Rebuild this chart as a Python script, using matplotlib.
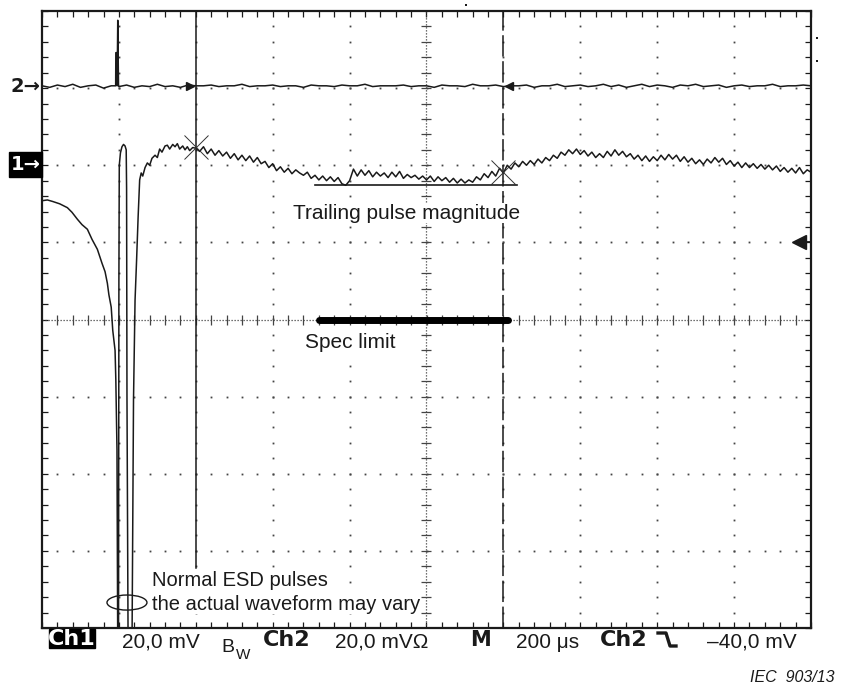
"""
Oscilloscope capture: ESD pulse on Ch1 with trailing pulse magnitude
and spec limit, Ch2 trigger trace on top.
"""
import numpy as np
import matplotlib
matplotlib.use("Agg")
import matplotlib.pyplot as plt
from matplotlib.patches import Ellipse, Rectangle
from matplotlib.lines import Line2D

W, H = 843, 688
plt.rcParams['font.family'] = ['Liberation Sans', 'DejaVu Sans']

# screen is 10 x 8 divisions, all trace values are in divisions
# Ch1 around the ESD pulses: (time, level) pairs
ch1_pulse_t = [0.00, 0.07, 0.14, 0.23, 0.33, 0.39, 0.46, 0.52, 0.59, 0.65, 0.72, 0.78, 0.82, 0.85, 0.87, 0.90, 0.92, 0.95, 0.96, 0.975, 0.985,
               0.995, 1.00, 1.005, 1.02, 1.04, 1.06, 1.08, 1.095, 1.10, 1.105, 1.12,
               1.17, 1.19, 1.21, 1.23, 1.25, 1.27, 1.29, 1.31, 1.34, 1.37, 1.40, 1.43, 1.47, 1.50, 1.53, 1.56, 1.60, 1.63,
               1.66, 1.70, 1.73, 1.76, 1.79, 1.83, 1.86, 1.89, 1.92, 1.96]
ch1_pulse_v = [1.54, 1.55, 1.53, 1.50, 1.45, 1.39, 1.30, 1.23, 1.17, 1.04, 0.91, 0.73, 0.62, 0.47, 0.32, 0.16, -0.14, -0.40, -0.78, -1.69, -4.30,
               -4.30, 0.50, 2.00, 2.16, 2.24, 2.27, 2.25, 2.20, 1.70, -1.00, -4.30,
               -4.30, -1.04, 0.25, 0.77, 1.33, 1.81, 1.90, 1.86, 1.97, 2.03, 2.00, 2.09, 2.13, 2.10, 2.21, 2.17, 2.25, 2.26,
               2.21, 2.27, 2.24, 2.28, 2.21, 2.25, 2.20, 2.24, 2.19, 2.23]

# Ch1 tail, one sample every 0.05 div starting at 2.0 div
ch1_tail_t0 = 2.0
ch1_tail_dt = 0.05
ch1_tail_v = [2.22, 2.18, 2.24, 2.15, 2.21, 2.13, 2.19, 2.12, 2.17, 2.09,
              2.15, 2.07, 2.13, 2.06, 2.12, 2.04, 2.10, 2.02, 2.05, 1.97,
              2.02, 1.93, 1.98, 1.91, 1.96, 1.89, 1.94, 1.90, 1.87, 1.91,
              1.83, 1.87, 1.81, 1.86, 1.80, 1.85, 1.79, 1.84, 1.76, 1.74,
              1.80, 1.95, 1.86, 1.94, 1.87, 1.93, 1.85, 1.91, 1.86, 1.90,
              1.84, 1.91, 1.85, 1.92, 1.83, 1.88, 1.84, 1.87, 1.82, 1.86,
              1.81, 1.86, 1.79, 1.85, 1.80, 1.84, 1.78, 1.83, 1.77, 1.82,
              1.77, 1.81, 1.78, 1.85, 1.81, 1.89, 1.84, 1.92, 1.86, 1.96,
              1.90, 2.00, 1.95, 2.03, 1.98, 2.05, 2.00, 2.06, 2.01, 2.08,
              2.03, 2.10, 2.06, 2.13, 2.09, 2.17, 2.13, 2.20, 2.15, 2.21,
              2.14, 2.19, 2.12, 2.17, 2.10, 2.15, 2.10, 2.18, 2.12, 2.20,
              2.13, 2.18, 2.11, 2.15, 2.08, 2.13, 2.06, 2.12, 2.05, 2.11,
              2.06, 2.13, 2.07, 2.14, 2.08, 2.13, 2.05, 2.11, 2.04, 2.09,
              2.02, 2.07, 2.01, 2.08, 2.03, 2.10, 2.04, 2.09, 2.01, 2.06,
              1.99, 2.04, 1.97, 2.03, 1.97, 2.02, 1.96, 2.01, 1.95, 2.00,
              1.94, 1.99, 1.92, 1.97, 1.91, 1.96, 1.90, 1.97, 1.89, 1.94,
              1.91]

# Ch2, one sample every 0.1 div, plus the trigger spike
ch2_dt = 0.1
ch2_v = [3.03, 3.01, 3.04, 3.02, 3.05, 3.01, 3.03, 3.04, 3.00, 3.03,
         3.02, 3.04, 3.01, 3.03, 3.02, 3.05, 3.02, 3.03, 3.01, 3.04,
         3.03, 3.03, 3.04, 3.02, 3.03, 3.03, 3.05, 3.02, 3.03, 3.03,
         3.04, 3.02, 3.03, 3.03, 3.01, 3.04, 3.03, 3.03, 3.02, 3.04,
         3.03, 3.03, 3.05, 3.02, 3.03, 3.03, 3.03, 3.04, 3.02, 3.03,
         3.03, 3.01, 3.04, 3.03, 3.03, 3.02, 3.05, 3.03, 3.03, 3.04,
         3.02, 3.03, 3.03, 3.04, 3.01, 3.03, 3.03, 3.05, 3.02, 3.03,
         3.04, 3.02, 3.03, 3.05, 3.02, 3.04, 3.01, 3.03, 3.05, 3.02,
         3.04, 3.03, 3.01, 3.04, 3.03, 3.05, 3.02, 3.03, 3.04, 3.01,
         3.03, 3.04, 3.02, 3.03, 3.03, 3.05, 3.02, 3.03, 3.03, 3.04, 3.03]
ch2_spike_t = [0.958, 0.960, 0.975, 0.977, 0.985, 0.995]
ch2_spike_v = [3.03, 3.46, 3.46, 3.03, 3.88, 3.03]

# cursors and measurement marks
cursor_a = 2.0
cursor_a_bottom = -3.22
cursor_b = 6.0
cross_t = [2.0, 6.0]
cross_v = [2.24, 1.91]
trailing_t = [3.55, 6.18]
trailing_v = 1.74
spec_t = [3.60, 6.06]
spec_v = 0.0
trig_level = 1.0


def fx(x):
    return x / W


def fy(y):
    return 1 - y / H


fig = plt.figure(figsize=(W / 100, H / 100), dpi=100)
ax = fig.add_axes([fx(42), fy(628), 769 / W, 617 / H])
ax.set_xlim(0, 10)
ax.set_ylim(-4, 4)

ink = '#1a1a1a'
dot = '#444444'

# graticule: border with minor ticks
for s in ax.spines.values():
    s.set_linewidth(1.6)
    s.set_color(ink)
ax.set_xticks(np.arange(0, 10.01, 1))
ax.set_yticks(np.arange(-4, 4.01, 1))
ax.set_xticks(np.arange(0, 10.01, 0.2), minor=True)
ax.set_yticks(np.arange(-4, 4.01, 0.2), minor=True)
ax.tick_params(which='both', direction='in', length=4, width=0.9, color=ink,
               top=True, right=True, labelbottom=False, labelleft=False)

minor_x = np.arange(0.2, 9.9, 0.2)
minor_y = np.arange(-3.8, 3.9, 0.2)
for xv in [1, 2, 3, 4, 6, 7, 8, 9]:
    ax.plot(np.full(len(minor_y), xv), minor_y, ls='none', marker='s', ms=1.3, color=dot, mew=0)
for yv in [-3, -2, -1, 1, 2, 3]:
    ax.plot(minor_x, np.full(len(minor_x), yv), ls='none', marker='s', ms=1.3, color=dot, mew=0)

# centre cross: dense dots with minor ticks
ax.axhline(0, ls=(0, (1, 1.4)), lw=0.9, color=dot)
ax.axvline(5, ls=(0, (1, 1.4)), lw=0.9, color=dot)
ax.plot(minor_x, np.zeros(len(minor_x)), ls='none', marker='|', ms=7, mew=0.9, color=dot)
ax.plot(np.full(len(minor_y), 5.0), minor_y, ls='none', marker='_', ms=7, mew=0.9, color=dot)

# traces
t1 = np.concatenate([ch1_pulse_t, ch1_tail_t0 + ch1_tail_dt * np.arange(len(ch1_tail_v))])
v1 = np.concatenate([ch1_pulse_v, ch1_tail_v])
ax.plot(t1, v1, color=ink, lw=1.1)

t2 = np.concatenate([ch2_dt * np.arange(len(ch2_v)), ch2_spike_t])
v2 = np.concatenate([ch2_v, ch2_spike_v])
order = np.argsort(t2, kind='stable')
ax.plot(t2[order], v2[order], color=ink, lw=1.1)

# cursors
ax.plot([cursor_a, cursor_a], [cursor_a_bottom, 4], color=ink, lw=1.1)
ax.axvline(cursor_b, color=ink, lw=1.1, ls=(0, (14, 3)))
ax.plot(cross_t, cross_v, ls='none', marker='x', ms=17, mew=0.7, color='#333333')
ax.plot(cursor_a - 0.07, 3.03, marker='>', ms=6, color=ink, clip_on=False)
ax.plot(cursor_b + 0.07, 3.03, marker='<', ms=6, color=ink, clip_on=False)

# trailing pulse magnitude and spec limit
ax.plot(trailing_t, [trailing_v, trailing_v], color=ink, lw=1.2)
ax.plot(spec_t, [spec_v, spec_v], color='black', lw=5, solid_capstyle='round')

# trigger level marker on the right edge
ax.plot([9.82, 10], [trig_level, trig_level], color=ink, lw=1.3, clip_on=False)
ax.plot(9.84, trig_level, marker='<', ms=10, color=ink, clip_on=False)

ax.add_patch(Ellipse((1.105, -3.67), 0.52, 0.195, fill=False, lw=1, ec=ink))

# annotations sit on a white patch so the graticule does not run through them
bg = dict(facecolor='white', edgecolor='none', pad=0.5)
txt = dict(color=ink, fontsize=15, va='center', ha='left', bbox=bg, zorder=3)
ax.text(3.26, 1.38, 'Trailing pulse magnitude', **txt)
ax.text(3.42, -0.30, 'Spec limit', **txt)
ax.text(1.43, -3.39, 'Normal ESD pulses', **{**txt, 'fontsize': 14.5})
ax.text(1.43, -3.69, 'the actual waveform may vary', **{**txt, 'fontsize': 14.5})

# channel ground markers on the left
fig.text(fx(10), fy(87), '2→', fontsize=14, fontweight='bold', color=ink, va='center',
         family=['DejaVu Sans'])
fig.add_artist(Rectangle((fx(9), fy(177)), 33 / W, 25 / H, transform=fig.transFigure,
                         color='black'))
fig.text(fx(11), fy(164.5), '1→', fontsize=14, fontweight='bold', color='white', va='center',
         family=['DejaVu Sans'])

# status line under the screen
bold = dict(fontsize=16, fontweight='bold', va='center', ha='left',
            family=['Liberation Sans Narrow', 'DejaVu Sans'])
fig.add_artist(Rectangle((fx(49), fy(648)), 46 / W, 19 / H, transform=fig.transFigure,
                         color='black'))
fig.text(fx(72), fy(639), 'Ch1', color='white', **{**bold, 'ha': 'center'})
fig.text(fx(122), fy(642), '20,0 mV', fontsize=15, color=ink, va='center')
fig.text(fx(221), fy(647), 'B', fontsize=14, color=ink, va='center')
fig.text(fx(236), fy(655), 'W', fontsize=11, color=ink, va='center')
fig.text(fx(263), fy(640), 'Ch2', color=ink, **bold)
fig.text(fx(335), fy(642), '20,0 mVΩ', fontsize=15, color=ink, va='center')
fig.text(fx(470), fy(640), 'M', color=ink, **{**bold, 'fontsize': 15})
fig.text(fx(516), fy(643), '200 μs', fontsize=15, color=ink, va='center')
fig.text(fx(600), fy(640), 'Ch2', color=ink, **bold)
fig.add_artist(Line2D([fx(658), fx(666), fx(670), fx(676)], [fy(633), fy(633), fy(646), fy(646)],
                      transform=fig.transFigure, color=ink, lw=2.4))
fig.text(fx(707), fy(642), '–40,0 mV', fontsize=15, color=ink, va='center')
fig.text(fx(750), fy(678), 'IEC  903/13', fontsize=11.5, style='italic', color=ink, va='center')

# small status dots outside the screen
for px, py in [(817, 38), (817, 61), (466, 5)]:
    fig.add_artist(Line2D([fx(px)], [fy(py)], marker='s', ms=2, mew=0, color=ink,
                          transform=fig.transFigure))

fig.savefig('out.png', dpi=100, facecolor='white')
